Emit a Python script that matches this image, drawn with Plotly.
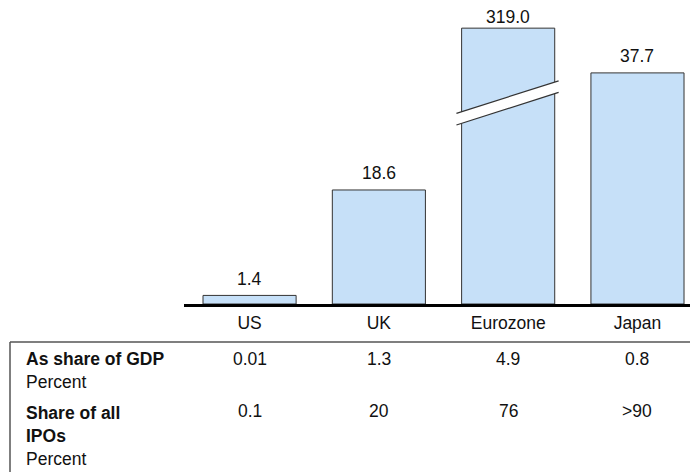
import plotly.graph_objects as go

# ---- data ----
categories = ["US", "UK", "Eurozone", "Japan"]
values = [1.4, 18.6, 319.0, 37.7]
gdp_share = ["0.01", "1.3", "4.9", "0.8"]
ipo_share = ["0.1", "20", "76", ">90"]
row_labels = ["<b>As share of GDP</b><br>Percent", "<b>Share of all<br>IPOs</b><br>Percent"]

# ---- style / layout params ----
WIN_W, WIN_H = 698, 472
OFF = 8                      # page body margin
W, H = WIN_W - OFF, WIN_H - OFF
FONT = "Liberation Sans, Arial, sans-serif"
FS = 17.5
TXT = "#111111"
BAR_FILL = "#C6E0F8"
BAR_LINE = "#333333"
BASE_PX = 304          # baseline pixel row (window)
PX_PER_UNIT = 6.13     # vertical scale
CAP = 45.0             # displayed height of broken bar

disp = [v if v < CAP * 2 else CAP for v in values]
broken = [v >= CAP * 2 for v in values]


def py(px):
    return 1 - (px - OFF) / H


def pxx(px):
    return (px - OFF) / W


fig = go.Figure()
fig.add_trace(go.Bar(
    x=categories, y=disp, width=0.72,
    marker=dict(color=BAR_FILL, line=dict(color=BAR_LINE, width=1)),
    hoverinfo="skip", showlegend=False,
))

annotations = []
shapes = []

# value labels
for i, (c, v, d, b) in enumerate(zip(categories, values, disp, broken)):
    annotations.append(dict(
        x=c, y=d, xref="x", yref="y", text=f"{v:.1f}", showarrow=False,
        yanchor="middle", yshift=11.3 if b else 16.5,
        font=dict(family=FONT, size=FS, color=TXT),
    ))
    if b:
        # axis break marker: white slanted band with two dark edges
        x0, x1 = i - 0.40, i + 0.39
        lo0, lo1 = CAP * 0.649, CAP * 0.767
        hi0, hi1 = CAP * 0.691, CAP * 0.809
        shapes.append(dict(type="path", xref="x", yref="y",
                           path=f"M {x0} {lo0} L {x1} {lo1} L {x1} {hi1} L {x0} {hi0} Z",
                           fillcolor="white", line=dict(width=0), layer="above"))
        shapes.append(dict(type="line", xref="x", yref="y", x0=x0, y0=lo0, x1=x1, y1=lo1,
                           line=dict(color="#333333", width=1.2), layer="above"))
        shapes.append(dict(type="line", xref="x", yref="y", x0=x0, y0=hi0, x1=x1, y1=hi1,
                           line=dict(color="#333333", width=1.2), layer="above"))

# table lines
shapes.append(dict(type="line", xref="paper", yref="paper",
                   x0=pxx(10), x1=1, y0=py(342), y1=py(342),
                   line=dict(color="#555555", width=1.5)))
shapes.append(dict(type="line", xref="paper", yref="paper",
                   x0=pxx(10), x1=pxx(10), y0=py(342), y1=0,
                   line=dict(color="#555555", width=1.5)))

# table row labels
row_top_px = [347, 401]
for lab, top in zip(row_labels, row_top_px):
    annotations.append(dict(
        x=pxx(24), y=py(top), xref="paper", yref="paper", text=lab,
        showarrow=False, xanchor="left", yanchor="top", align="left",
        font=dict(family=FONT, size=FS, color=TXT),
    ))

# table values
for row, ypx in ((gdp_share, 359), (ipo_share, 411)):
    for c, t in zip(categories, row):
        annotations.append(dict(
            x=c, y=py(ypx), xref="x", yref="paper", text=t, showarrow=False,
            xanchor="center", yanchor="middle",
            font=dict(family=FONT, size=FS, color=TXT),
        ))

fig.update_layout(
    width=W, height=H,
    margin=dict(l=0, r=0, t=0, b=0),
    paper_bgcolor="white", plot_bgcolor="white",
    xaxis=dict(
        domain=[pxx(184), 1], range=[-0.507, 3.468],
        showline=True, linecolor="black", linewidth=2.5,
        showgrid=False, zeroline=False, ticks="",
        ticklabelstandoff=1,
        tickfont=dict(family=FONT, size=FS, color=TXT),
        fixedrange=True,
    ),
    yaxis=dict(
        domain=[py(BASE_PX), 1], range=[0, (BASE_PX - OFF) / PX_PER_UNIT],
        visible=False, fixedrange=True,
    ),
    annotations=annotations,
    shapes=shapes,
    font=dict(family=FONT, size=FS),
)

fig.write_html("out.html")
